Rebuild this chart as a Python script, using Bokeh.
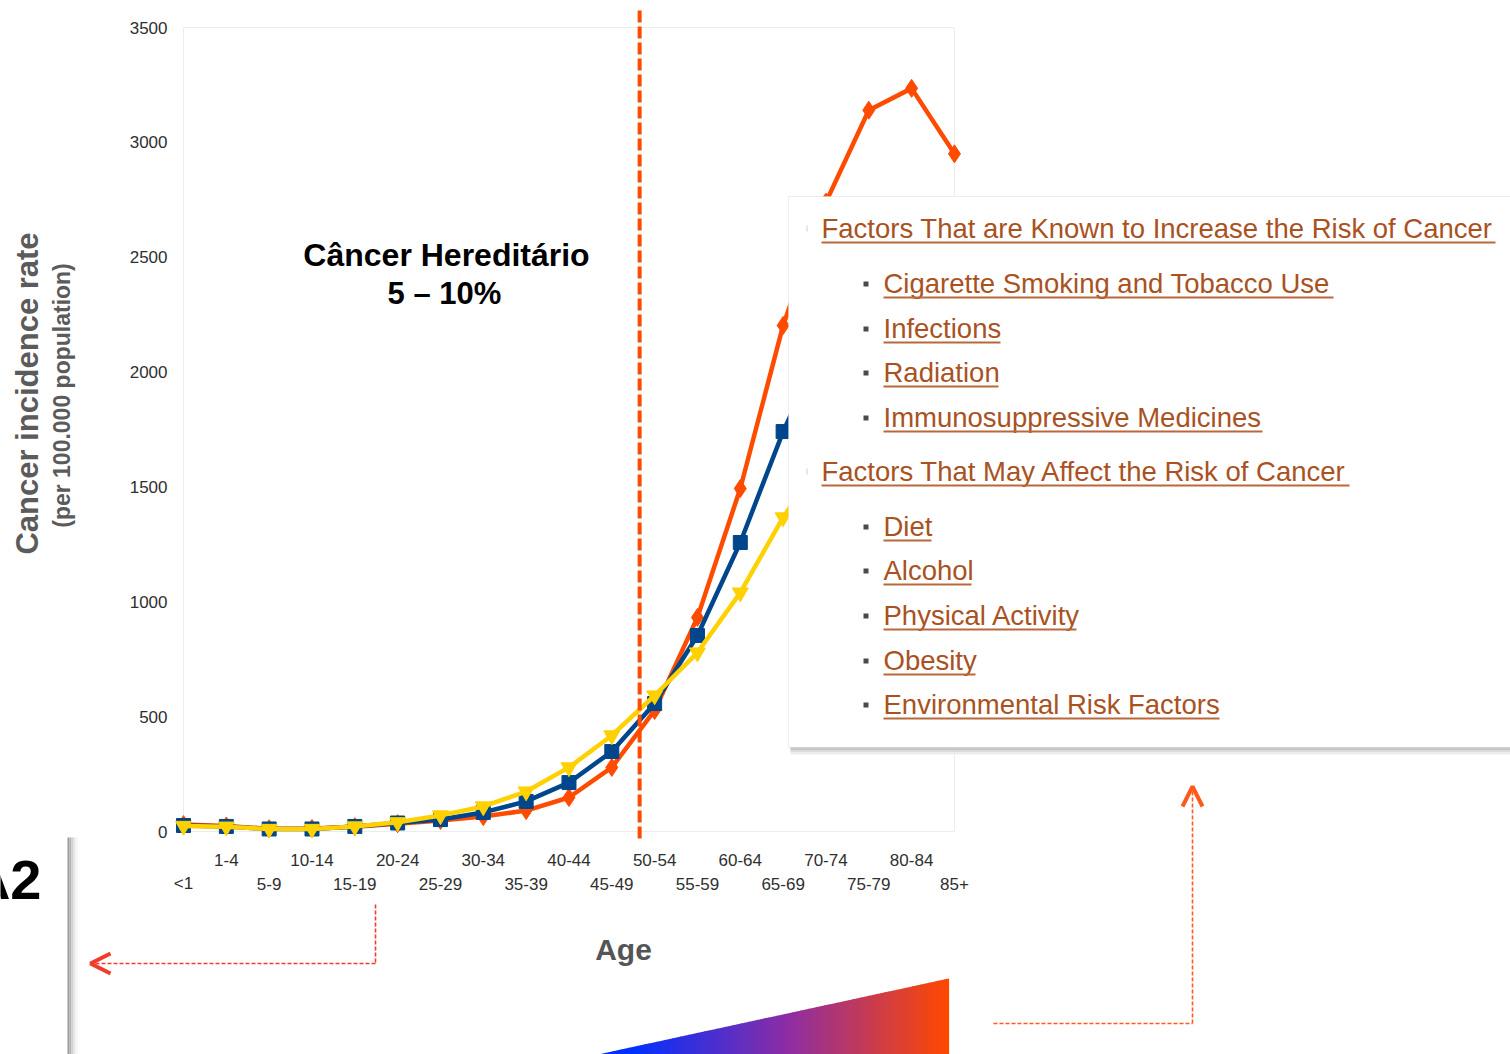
from math import pi

from bokeh.core.properties import value
from bokeh.embed import file_html
from bokeh.models import Arrow, BoxAnnotation, Label, OpenHead, PolyAnnotation
from bokeh.plotting import figure
from bokeh.resources import INLINE

# ---------------------------------------------------------------- data
AGE_GROUPS = ["<1", "1-4", "5-9", "10-14", "15-19", "20-24", "25-29", "30-34",
              "35-39", "40-44", "45-49", "50-54", "55-59", "60-64", "65-69",
              "70-74", "75-79", "80-84", "85+"]

# cancer incidence per 100.000 population, by age group
INCIDENCE_MALE = [30, 24, 12, 13, 21, 34, 48, 65, 91, 148, 279, 527, 932,
                  1493, 2203, 2740, 3140, 3235, 2950]
INCIDENCE_ALL = [26, 22, 11, 11, 22, 37, 52, 83, 131, 213, 348, 557, 853,
                 1258, 1741, 2150, 2400, 2450, 2300]
INCIDENCE_FEMALE = [24, 21, 11, 11, 22, 40, 70, 109, 174, 279, 418, 592, 779,
                    1040, 1367, 1640, 1780, 1790, 1680]

Y_TICKS = [0, 500, 1000, 1500, 2000, 2500, 3000, 3500]

# age position (on the age-group axis) that separates hereditary cancer
HEREDITARY_CUTOFF = 10.65

KNOWN_FACTORS_TITLE = "Factors That are Known to Increase the Risk of Cancer"
KNOWN_FACTORS = ["Cigarette Smoking and Tobacco Use", "Infections",
                 "Radiation", "Immunosuppressive Medicines"]
POSSIBLE_FACTORS_TITLE = "Factors That May Affect the Risk of Cancer"
POSSIBLE_FACTORS = ["Diet", "Alcohol", "Physical Activity", "Obesity",
                    "Environmental Risk Factors"]

# ---------------------------------------------------------------- layout
W, H = 1510, 1054
ORIGIN_X, ORIGIN_Y = 183, 831   # canvas px of (first age group, 0)
GROUP_STEP = 42.83              # px per age group
PX_PER_UNIT = 804 / 3500        # px per incidence unit

ORANGE = "#ff4b00"
BLUE = "#00468c"
YELLOW = "#ffd100"
LINK = "#a9521f"
LINK_LINE = "#b9683c"
FONT = "Liberation Sans"


def sx(px):
    """canvas x (from the left edge) -> screen units"""
    return px


def sy(py):
    """canvas y (from the top edge) -> screen units"""
    return H - py


x_start = -ORIGIN_X / GROUP_STEP
y_start = -(H - ORIGIN_Y) / PX_PER_UNIT

p = figure(width=W, height=H,
           x_range=(x_start, x_start + W / GROUP_STEP),
           y_range=(y_start, y_start + H / PX_PER_UNIT),
           x_axis_location=None, y_axis_location=None,
           toolbar_location=None, output_backend="svg",
           min_border=0, outline_line_color=None,
           background_fill_color="white", border_fill_color="white")
p.grid.visible = False

positions = list(range(len(AGE_GROUPS)))

# ---------------------------------------------------------------- axes
p.text(x=[0] * len(Y_TICKS), y=Y_TICKS, text=[str(t) for t in Y_TICKS],
       x_offset=-16, text_align="right", text_baseline="middle",
       text_font=value(FONT), text_font_size="17px", text_color="#2f2f2f")

for ticks, drop in ((positions[1::2], 28), (positions[0::2], 52)):
    p.text(x=ticks, y=[0] * len(ticks), text=[AGE_GROUPS[i] for i in ticks],
           y_offset=drop, text_align="center", text_baseline="middle",
           text_font=value(FONT), text_font_size="17px", text_color="#2f2f2f")

# ---------------------------------------------------------------- chart
p.quad(left=[0], right=[len(AGE_GROUPS) - 1], bottom=[0], top=[Y_TICKS[-1]],
       fill_color=None, line_color="#ececec", line_width=1)

p.line(positions, INCIDENCE_MALE, color=ORANGE, line_width=4.5)
p.scatter(positions, INCIDENCE_MALE, marker="diamond", size=18, color=ORANGE)
p.line(positions, INCIDENCE_ALL, color=BLUE, line_width=4.5)
p.scatter(positions, INCIDENCE_ALL, marker="square", size=14, color=BLUE)
p.line(positions, INCIDENCE_FEMALE, color=YELLOW, line_width=4.5)
p.scatter(positions, INCIDENCE_FEMALE, marker="inverted_triangle", size=16,
          color=YELLOW)

p.segment(x0=[HEREDITARY_CUTOFF], x1=[HEREDITARY_CUTOFF],
          y0=[-7 / PX_PER_UNIT], y1=[3574],
          line_color=ORANGE, line_width=4, line_dash="12 4")

# ---------------------------------------------------------------- texts


def label(text, x, y, size, color="black", bold=True, align="center",
          angle=0.0):
    p.add_layout(Label(x=sx(x), y=sy(y), x_units="screen", y_units="screen",
                       text=text, text_align=align, text_baseline="middle",
                       angle=angle, text_font=FONT, text_font_size=size,
                       text_font_style="bold" if bold else "normal",
                       text_color=color))


label("Câncer Hereditário", 446, 254, "32px")
label("5 – 10%", 444, 293, "31px")
label("Cancer incidence rate", 27, 393, "31px", color="#5b5b5b", angle=pi / 2)
label("(per 100.000 population)", 61, 395, "23px", color="#5b5b5b",
      angle=pi / 2)
label("Age", 623, 949, "30px", color="#555555")
label("A2", 41, 879, "56px", align="right")


def box(left, right, top, bottom, color, line=None):
    p.add_layout(BoxAnnotation(left=sx(left), right=sx(right), top=sy(top),
                               bottom=sy(bottom), left_units="screen",
                               right_units="screen", top_units="screen",
                               bottom_units="screen", fill_color=color,
                               fill_alpha=1, line_color=line,
                               line_width=1 if line else 0))


# shadowed edge on the lower left
for x0, shade in ((67, "#9a9a9a"), (69, "#b5b5b5"), (71, "#d0d0d0"),
                  (73, "#e6e6e6"), (75, "#f4f4f4")):
    box(x0, x0 + 2, 837, 1060, shade)

# ---------------------------------------------------------------- risk box
for y0, shade in ((746, "#a8a8a8"), (748, "#c2c2c2"), (750, "#dadada"),
                  (752, "#ececec")):
    box(790, 1515, y0, y0 + 2, shade)
box(788, 1515, 196, 747, "white", line="#c6c6c6")

# underline extents (px) of each entry as set in the box
TITLE_X, ITEM_X = 821, 883
rows = [(KNOWN_FACTORS_TITLE, True, 228, 1495)]
rows += [(t, False, y, r) for t, y, r in
         zip(KNOWN_FACTORS, (283, 328, 372, 417), (1333, 1000, 998, 1262))]
rows += [(POSSIBLE_FACTORS_TITLE, True, 471, 1349)]
rows += [(t, False, y, r) for t, y, r in
         zip(POSSIBLE_FACTORS, (526, 570, 615, 660, 704),
             (931, 971, 1076, 975, 1219))]

for text, is_title, yc, right in rows:
    x0 = TITLE_X if is_title else ITEM_X
    label(text, x0, yc, "27.5px", color=LINK, bold=False, align="left")
    box(x0, right, yc + 13, yc + 15, LINK_LINE)
    if is_title:
        box(806, 807, yc - 3, yc + 3, "#cfcfcf")
    else:
        box(863, 868, yc - 2, yc + 3, "#4a4a4a")

# ---------------------------------------------------------------- arrows


def dashed(x0, y0, x1, y1, color, head=False):
    p.add_layout(Arrow(x_start=sx(x0), y_start=sy(y0), x_end=sx(x1),
                       y_end=sy(y1), start_units="screen", end_units="screen",
                       line_color=color, line_width=1.6, line_dash="4 2",
                       end=OpenHead(size=20, line_color=color, line_width=4)
                       if head else None))


dashed(375, 904, 375, 963, "#f03c28")
dashed(375, 963, 90, 963, "#f03c28", head=True)
dashed(993, 1023, 1192, 1023, "#ff5a1e")
dashed(1192, 1023, 1192, 786, "#ff5a1e", head=True)

# ---------------------------------------------------------------- age wedge
STOPS = [(0.0, (0, 48, 255)), (0.12, (0, 48, 255)), (0.55, (140, 45, 165)),
         (1.0, (255, 72, 0))]


def wedge_color(t):
    for (t0, c0), (t1, c1) in zip(STOPS, STOPS[1:]):
        if t <= t1:
            f = (t - t0) / (t1 - t0) if t1 > t0 else 0
            r, g, b = (round(a + (b_ - a) * f) for a, b_ in zip(c0, c1))
            return f"#{r:02x}{g:02x}{b:02x}"
    return "#%02x%02x%02x" % STOPS[-1][1]


WX0, WX1, WY_BASE, WY_TOP = 588, 948, 1056, 978
n_strips = 90
for k in range(n_strips):
    xa = WX0 + (WX1 - WX0) * k / n_strips
    xb = WX0 + (WX1 - WX0) * (k + 1) / n_strips
    ya = WY_BASE - (WY_BASE - WY_TOP) * (xa - WX0) / (WX1 - WX0)
    yb = WY_BASE - (WY_BASE - WY_TOP) * (xb - WX0) / (WX1 - WX0)
    c = wedge_color((k + 0.5) / n_strips)
    p.add_layout(PolyAnnotation(xs=[sx(xa), sx(xb + 0.6), sx(xb + 0.6), sx(xa)],
                                ys=[sy(WY_BASE), sy(WY_BASE), sy(yb), sy(ya)],
                                xs_units="screen", ys_units="screen",
                                fill_color=c, fill_alpha=1, line_color=None))

open("out.html", "w").write(file_html(p, INLINE))
